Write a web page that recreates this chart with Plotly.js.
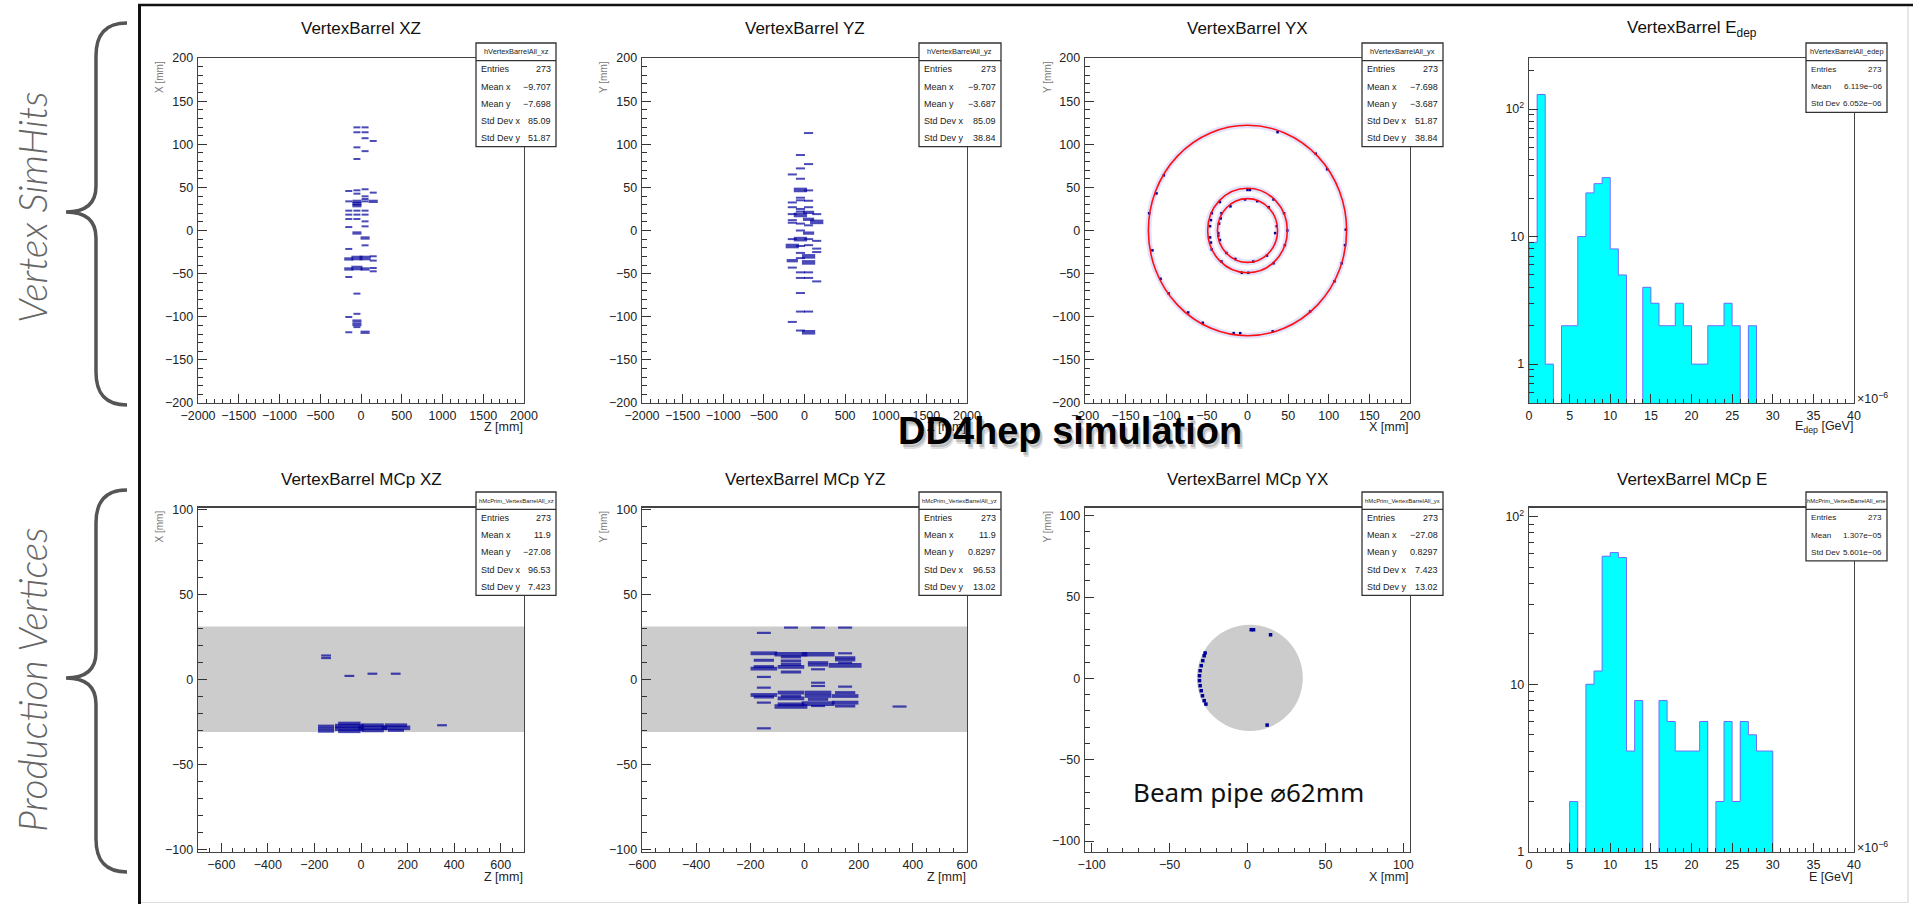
<!DOCTYPE html>
<html><head><meta charset="utf-8">
<script src="https://cdn.plot.ly/plotly-3.0.1.min.js"></script>
<style>html,body{margin:0;padding:0;background:#fff;overflow:hidden;} #chart{width:1913px;height:904px;}</style>
</head><body><div id="chart"></div>
<script>
// ---------------- DATA ----------------
// Panel 1: VertexBarrel XZ  (x axis = Z, y axis = X), n = bin content
const xzZ = [-150,-150,-150,-150,-150,-150,-150,-150,-150,-150,-150,-150,
  -50,-50,-50,-50,-50,-50,-50,-50,-50,-50,-50,-50,-50,-50,-50,-50,-50,-50,-50,-50,
  50,50,50,50,50,50,50,50,50,50,50,50,50,50,50,50,50,
  150,150,150,150,150,150,150];
const xzX = [45.8,33.8,23,18.4,13.3,4,-21.4,-33,-44.6,-53.9,-100.3,-118,
  119.6,113.9,96.4,82.9,46.6,42.7,33.8,31.1,28.8,23,18.4,13.3,-2.9,-31.9,-43.5,-73.2,-96.6,-105,-109,-112,
  119.6,113.9,107,92,47.8,39.6,36.5,33.8,23,18.4,10.6,4.8,-8.7,-17.2,-31.9,-44.6,-118,
  103.8,43.9,33.8,-29.9,-34.9,-43.5,-47.3];
const xzN = [1,1,1,1,1,1,1,2,2,1,1,1,
  1,1,1,1,1,1,2,2,2,1,1,1,2,3,3,1,1,2,2,1,
  1,1,1,1,1,1,1,1,1,1,1,1,2,1,3,2,2,
  1,1,2,1,1,1,1];

// Panel 2: VertexBarrel YZ (x = Z, y = Y)
const yzZ = [50,-50,50,-50,-150,-50,-50,50,-50,-50,50,-150,-150,-50,-50,50,-150,-50,50,150,-150,-150,-50,50,150,50,-50,50,-150,-50,50,150,-150,-50,50,150,150,-50,50,-50,50,-150,-150,-50,50,-50,50,150,-50,-50,50,-150,-50,50];
const yzY = [113,87.5,77,72,65,60,47,46.5,38,35,34.5,32.5,27,25,22,27,19,18,21,19,12,9,8,13,10,6,0,-3,-10,-10,-10,-12,-18,-18,-17,-21,-25,-26,-30,-32,-37,-35,-43,-48.5,-48.5,-55,-55,-59,-72.5,-94,-94,-106,-116,-118];
const yzN = [1,1,1,1,1,1,3,1,1,1,1,1,1,1,1,1,1,3,2,1,1,1,1,2,3,1,1,2,1,3,1,1,3,1,1,1,1,1,3,1,3,2,1,1,1,1,1,1,1,1,1,1,1,3];

// Panel 3: VertexBarrel YX (x = X, y = Y)
const yxX = [37,84,98,-103,-112,-121,-117,-107,-97,-73,-55,-17,-9,31,77,107,116,120,121,
  0,3,-34,-44,-46,-44,-32,-7,1,32,46,49,45,32,-45,-46,-45,
  -3,-21,-32,-36,-34,-26,-15,7,24,34,36,26,12,-35,-36,-33];
const yxY = [114,89,71,64,43,20,-23,-56,-73,-95,-107,-119,-119,-117,-94,-59,-38,-17,1,
  47,47,33,20,5,-22,-36,-49,-49,-38,-17,0,20,36,12,-8,-14,
  36,28,20,-3,-11,-26,-33,-36,-29,-3,5,27,34,8,-6,14];
const layerRadii = [122, 49, 37];

// Panel 4: VertexBarrel Edep histogram (x10^-6 GeV), 1-unit bins from 0 to 40
const edepBinLow = [0,1,2,3,4,5,6,7,8,9,10,11,12,13,14,15,16,17,18,19,20,21,22,23,24,25,26,27,28,29,30,31,32,33,34,35,36,37,38,39];
const edepCounts = [9,130,1,0,2,2,10,22,26,29,8,5,0,0,4,3,2,2,3,2,1,1,2,2,3,2,0,2,0,0,0,0,0,0,0,0,0,0,0,0];

// Panel 5: MCp XZ (x = Z, y = X)
const mcXZz = [-150,-150,-50,49,149,348,-150,-150,-150,-50,-50,-50,-50,50,50,50,150,150,150];
const mcXZx = [14,12.5,2,3.3,3.3,-27,-27.5,-29,-30.5,-26,-27.5,-29,-30.5,-27,-28.5,-30,-27,-28.5,-30];
const mcXZn = [1,1,1,1,1,1,2,2,2,3,4,4,3,3,4,3,3,4,2];

// Panel 6: MCp YZ (x = Z, y = Y)
const mcYZz = [-150,-150,-150,-150,-150,-150,-150,-150,-150,-150,-150,
  -50,-50,-50,-50,-50,-50,-50,-50,-50,-50,-50,-50,
  50,50,50,50,50,50,50,50,50,50,50,50,
  150,150,150,150,150,150,150,150,150,150,150, 351];
const mcYZy = [27.3,15.3,11.2,7.5,6.3,1.4,-4.9,-9.2,-10.4,-13.7,-28.8,
  30.4,14.7,13.2,10.8,8.8,7.3,4.3,-7.8,-9.8,-11.2,-14.7,-16,
  30.4,14.7,9.8,8.4,5.9,-2,-3.9,-7.8,-9.8,-11.8,-14.3,-15.7,
  30.4,15.3,12.7,11.4,9.8,8.2,-4.3,-7.8,-9.8,-13.7,-15.7, -16];
const mcYZn = [1,3,2,2,3,1,1,3,2,1,1,
  1,4,2,2,2,3,2,3,2,3,3,4,
  1,4,2,2,1,1,1,3,3,2,4,1,
  1,1,2,2,1,4,1,2,3,3,2, 1];

// Panel 7: MCp YX (x = X, y = Y)
const mcYXx = [2.4,3.9,14.8,12.6,-27.2,-27.8,-28.7,-29.7,-30.4,-30.8,-30.8,-30.4,-29.7,-28.9,-27.8,-26.7];
const mcYXy = [29.9,29.9,26.8,-28.7,15.6,13.9,10.9,7.8,4.7,1.6,-1.4,-4.5,-7.6,-10.7,-13.7,-15.8];
const beamPipeR = 31;

// Panel 8: MCp E histogram (x10^-6 GeV)
const eneBinLow = [0,1,2,3,4,5,6,7,8,9,10,11,12,13,14,15,16,17,18,19,20,21,22,23,24,25,26,27,28,29,30,31,32,33,34,35,36,37,38,39];
const eneCounts = [0,0,0,0,0,2,0,10,12,58,61,57,4,8,0,0,8,6,4,4,4,6,0,2,6,2,6,5,4,4,0,0,0,0,0,0,0,0,0,0];

// Titles and stats
const panelTitles = ['VertexBarrel XZ','VertexBarrel YZ','VertexBarrel YX','VertexBarrel E<sub>dep</sub>',
  'VertexBarrel MCp XZ','VertexBarrel MCp YZ','VertexBarrel MCp YX','VertexBarrel MCp E'];
const xTitles = ['Z [mm]','Z [mm]','X [mm]','E<sub>dep</sub> [GeV]','Z [mm]','Z [mm]','X [mm]','E [GeV]'];
const yTitles = ['X [mm]','Y [mm]','Y [mm]',null,'X [mm]','Y [mm]','Y [mm]',null];
const statsHeader = ['hVertexBarrelAll_xz','hVertexBarrelAll_yz','hVertexBarrelAll_yx','hVertexBarrelAll_edep',
  'hMcPrim_VertexBarrelAll_xz','hMcPrim_VertexBarrelAll_yz','hMcPrim_VertexBarrelAll_yx','hMcPrim_VertexBarrelAll_ene'];
const statsLabels2D = ['Entries','Mean x','Mean y','Std Dev x','Std Dev y'];
const statsLabels1D = ['Entries','Mean','Std Dev'];
const statsValues = [
  ['273','\u22129.707','\u22127.698','85.09','51.87'],
  ['273','\u22129.707','\u22123.687','85.09','38.84'],
  ['273','\u22127.698','\u22123.687','51.87','38.84'],
  ['273','6.119e\u221206','6.052e\u221206'],
  ['273','11.9','\u221227.08','96.53','7.423'],
  ['273','11.9','0.8297','96.53','13.02'],
  ['273','\u221227.08','0.8297','7.423','13.02'],
  ['273','1.307e\u221205','5.601e\u221206']
];

// ---------------- LAYOUT HELPERS ----------------
const W = 1913, H = 904;
const fx = v => v / W;
const fy = v => 1 - v / H;
const FONT = 'Liberation Sans, Arial, Helvetica, sans-serif';
const cols = [[198,524],[642,967],[1085,1410],[1529,1854]];
const rowsY = [[58,403],[507.5,852]];
const axSpec = [
  {xr:[-2000,2000], xd:500, xm:100, yr:[-200,200], yd:50, ym:10},
  {xr:[-2000,2000], xd:500, xm:100, yr:[-200,200], yd:50, ym:10},
  {xr:[-200,200], xd:50, xm:10, yr:[-200,200], yd:50, ym:10},
  {xr:[0,40], xd:5, xm:1, log:true, yr:[-0.305,2.40], minors:[0.5,0.6,0.7,0.8,0.9,2,3,4,5,6,7,8,9,20,30,40,50,60,70,80,90,200]},
  {xr:[-700,700], xd:200, xm:50, yr:[-101.5,101], yd:50, ym:10},
  {xr:[-600,600], xd:200, xm:50, yr:[-101.5,101], yd:50, ym:10},
  {xr:[-104.3,104.3], xd:50, xm:10, yr:[-106.7,105], yd:50, ym:10},
  {xr:[0,40], xd:5, xm:1, log:true, yr:[0,2.054], minors:[2,3,4,5,6,7,8,9,20,30,40,50,60,70,80,90]}
];

const layout = {
  width: W, height: H, autosize: false,
  margin: {l:0, r:0, t:0, b:0, pad:0},
  paper_bgcolor: '#fff', plot_bgcolor: 'rgba(0,0,0,0)',
  showlegend: false, hovermode: false, bargap: 0,
  font: {family: FONT, color: '#222'},
  shapes: [], annotations: []
};

function baseAxis(){
  return {
    ticks: 'inside', ticklen: 9, tickwidth: 1, tickcolor: '#333',
    showline: true, linecolor: '#444', linewidth: 1.3, mirror: true,
    showgrid: false, zeroline: false, fixedrange: true,
    tickfont: {family: FONT, size: 12.5, color: '#222'},
    ticklabelstandoff: 1
  };
}

for (let i = 0; i < 8; i++) {
  const s = axSpec[i];
  const c = cols[i % 4], r = rowsY[i < 4 ? 0 : 1];
  const n = i + 1;
  const xa = baseAxis();
  Object.assign(xa, {domain: [fx(c[0]), fx(c[1])], range: s.xr, tick0: 0, dtick: s.xd,
    anchor: 'y' + n,
    minor: {ticks: 'inside', ticklen: 4.5, tickwidth: 1, tickcolor: '#333', dtick: s.xm, tick0: 0, showgrid: false}});
  const ya = baseAxis();
  Object.assign(ya, {domain: [fy(r[1]), fy(r[0])], range: s.yr, anchor: 'x' + n});
  if (s.log) {
    Object.assign(ya, {type: 'log', tickmode: 'array', tickvals: [1,10,100], ticktext: ['1','10','10<sup>2</sup>'],
      minor: {ticks: 'inside', ticklen: 4.5, tickwidth: 1, tickcolor: '#333', tickmode: 'array', tickvals: s.minors, showgrid: false}});
  } else {
    Object.assign(ya, {tick0: 0, dtick: s.yd,
      minor: {ticks: 'inside', ticklen: 4.5, tickwidth: 1, tickcolor: '#333', dtick: s.ym, tick0: 0, showgrid: false}});
  }
  layout['xaxis' + (n === 1 ? '' : n)] = xa;
  layout['yaxis' + (n === 1 ? '' : n)] = ya;
}

// ---------------- TRACES ----------------
const NAVY = '#000099';
function boxTrace(xs, ys, ns, ax, base, grow, thick, tgrow) {
  return {
    type: 'scatter', mode: 'markers', x: xs, y: ys, xaxis: 'x' + ax, yaxis: 'y' + ax,
    marker: {symbol: 'line-ew', size: ns.map(v => base + grow * (v - 1)), color: NAVY,
      line: {color: NAVY, width: ns.map(v => thick + tgrow * (v - 1))}},
    hoverinfo: 'skip'
  };
}
function dotTrace(xs, ys, ax, sz) {
  return {type: 'scatter', mode: 'markers', x: xs, y: ys, xaxis: 'x' + ax, yaxis: 'y' + ax,
    marker: {symbol: 'square', size: sz, color: NAVY, line: {width: 0}}, hoverinfo: 'skip'};
}
function histTraces(lows, counts, ax) {
  const fill = {type: 'bar', x: lows.map(v => v + 0.5), y: counts.map(v => v > 0 ? v : null), width: 1,
    xaxis: 'x' + ax, yaxis: 'y' + ax,
    marker: {color: '#00ffff', line: {width: 0}}, hoverinfo: 'skip'};
  // outline as a step line through the bin edges (empty bins drop below the axis and get clipped)
  const ex = [lows[0]].concat(lows, [lows[lows.length - 1] + 1]);
  const ey = [1e-3].concat(counts.map(v => v > 0 ? v : 1e-3), [counts[counts.length - 1] > 0 ? counts[counts.length - 1] : 1e-3]);
  const outline = {type: 'scatter', mode: 'lines', x: ex, y: ey, xaxis: 'x' + ax, yaxis: 'y' + ax,
    line: {shape: 'hv', color: '#6e6eff', width: 1}, hoverinfo: 'skip'};
  return [fill, outline];
}

const traces = [
  boxTrace(xzZ, xzX, xzN, '', 5, 1.5, 2, 1.3),
  boxTrace(yzZ, yzY, yzN, '2', 6.5, 1.5, 2, 1.3),
  dotTrace(yxX, yxY, '3', 2.5),
  ...histTraces(edepBinLow, edepCounts, '4'),
  boxTrace(mcXZz, mcXZx, mcXZn, '5', 7, 4.5, 2.2, 0.8),
  boxTrace(mcYZz, mcYZy, mcYZn, '6', 10, 4.5, 2.2, 0.8),
  dotTrace(mcYXx, mcYXy, '7', 3.5),
  ...histTraces(eneBinLow, eneCounts, '8')
];

// ---------------- SHAPES ----------------
const S = layout.shapes;
layerRadii.forEach(rad => {
  S.push({type:'circle', xref:'x3', yref:'y3', x0:-rad, x1:rad, y0:-rad, y1:rad,
    line:{color:'rgba(190,190,255,0.45)', width:6}, layer:'below'});
});
layerRadii.forEach(rad => {
  S.push({type:'circle', xref:'x3', yref:'y3', x0:-rad, x1:rad, y0:-rad, y1:rad,
    line:{color:'#ff1010', width:1.6}, layer:'above'});
});
['5','6'].forEach(a => {
  S.push({type:'rect', xref:'x' + a + ' domain', yref:'y' + a, x0:0, x1:1, y0:-beamPipeR, y1:beamPipeR,
    fillcolor:'#cccccc', line:{width:0}, layer:'below'});
});
S.push({type:'circle', xref:'x7', yref:'y7', x0:-32.5, x1:35.5, y0:-32.3, y1:33,
  fillcolor:'#cccccc', line:{width:0}, layer:'below'});

// stats boxes
const boxX = [[476,556],[919,1001],[1362,1443],[1806,1887]];
const A = layout.annotations;
for (let i = 0; i < 8; i++) {
  const bx = boxX[i % 4];
  const top = i < 4 ? 43 : 492;
  const hh = i < 4 ? 17.7 : 17.3;
  const is1D = (i % 4 === 3);
  const labels = is1D ? statsLabels1D : statsLabels2D;
  const fs = is1D ? 8.1 : 9;
  const rowH = 17.2;
  const bottom = top + hh + rowH * labels.length;
  S.push({type:'rect', xref:'paper', yref:'paper', x0:fx(bx[0]), x1:fx(bx[1]), y0:fy(bottom), y1:fy(top),
    fillcolor:'#fff', line:{color:'#333', width:1.3}, layer:'above'});
  S.push({type:'line', xref:'paper', yref:'paper', x0:fx(bx[0]), x1:fx(bx[1]), y0:fy(top + hh), y1:fy(top + hh),
    line:{color:'#333', width:1.3}, layer:'above'});
  A.push({xref:'paper', yref:'paper', x:fx((bx[0] + bx[1]) / 2), y:fy(top + hh / 2), text:statsHeader[i],
    showarrow:false, xanchor:'center', yanchor:'middle', font:{size: i < 4 ? 7.4 : 5.9, color:'#222', family:FONT}});
  labels.forEach((lab, k) => {
    const yc = top + hh + rowH * (k + 0.5);
    A.push({xref:'paper', yref:'paper', x:fx(bx[0] + 3), y:fy(yc), text:lab, showarrow:false,
      xanchor:'left', yanchor:'middle', font:{size:fs, color:'#222', family:FONT}});
    A.push({xref:'paper', yref:'paper', x:fx(bx[1] - 3), y:fy(yc), text:statsValues[i][k], showarrow:false,
      xanchor:'right', yanchor:'middle', font:{size:fs, color:'#222', family:FONT}});
  });
}

// braces and frame
function P(x, y) { return fx(x).toFixed(5) + ',' + fy(y).toFixed(5); }
function brace(yt, yb, ytip) {
  return 'M' + P(127, yt) + ' C' + P(104, yt) + ' ' + P(96, yt + 13) + ' ' + P(96, yt + 33) +
    ' L' + P(96, ytip - 26) + ' C' + P(96, ytip - 9) + ' ' + P(86, ytip) + ' ' + P(66, ytip) +
    ' C' + P(86, ytip) + ' ' + P(96, ytip + 9) + ' ' + P(96, ytip + 26) +
    ' L' + P(96, yb - 33) + ' C' + P(96, yb - 13) + ' ' + P(104, yb) + ' ' + P(127, yb);
}
S.push({type:'path', xref:'paper', yref:'paper', path:brace(23, 405, 212), line:{color:'#555', width:3.5}, layer:'above'});
S.push({type:'path', xref:'paper', yref:'paper', path:brace(490, 872, 678), line:{color:'#555', width:3.5}, layer:'above'});
S.push({type:'line', xref:'paper', yref:'paper', x0:fx(138), x1:1, y0:fy(5), y1:fy(5), line:{color:'#111', width:2.5}, layer:'above'});
S.push({type:'line', xref:'paper', yref:'paper', x0:fx(139.5), x1:fx(139.5), y0:fy(4), y1:0, line:{color:'#111', width:3}, layer:'above'});
S.push({type:'line', xref:'paper', yref:'paper', x0:fx(1908), x1:fx(1908), y0:fy(7), y1:fy(903), line:{color:'#cfcfcf', width:1}, layer:'above'});
S.push({type:'line', xref:'paper', yref:'paper', x0:fx(141), x1:fx(1908), y0:fy(902.5), y1:fy(902.5), line:{color:'#dcdcdc', width:1}, layer:'above'});

// ---------------- TEXT ----------------
for (let i = 0; i < 8; i++) {
  const c = cols[i % 4], r = rowsY[i < 4 ? 0 : 1];
  const top = i < 4 ? 0 : 1;
  A.push({xref:'paper', yref:'paper', x:fx((c[0] + c[1]) / 2), y:fy(top ? 479 : 29), text:panelTitles[i],
    showarrow:false, xanchor:'center', yanchor:'middle', font:{size:17, color:'#111', family:FONT}});
  A.push({xref:'paper', yref:'paper', x:fx(c[1] + 1), y:fy(top ? 877 : 427), text:xTitles[i],
    showarrow:false, xanchor:'right', yanchor:'middle', font:{size:12.5, color:'#222', family:FONT}});
  if (yTitles[i]) {
    const xs = [159, 603, 1047][i % 4];
    A.push({xref:'paper', yref:'paper', x:fx(xs), y:fy(r[0] + 19), text:yTitles[i], textangle:-90,
      showarrow:false, xanchor:'center', yanchor:'middle', font:{size:10, color:'#777', family:FONT}});
  }
  if (i % 4 === 3) {
    A.push({xref:'paper', yref:'paper', x:fx(1855), y:fy(r[1] - 5), text:'\u00d710<sup>\u22126</sup>',
      showarrow:false, xanchor:'left', yanchor:'middle', font:{size:12.5, color:'#222', family:FONT}});
  }
}

A.push({xref:'paper', yref:'paper', x:fx(32), y:fy(207), text:'Vertex SimHits', textangle:-90, showarrow:false,
  xanchor:'center', yanchor:'middle', font:{size:39, color:'#666', family:'Lato, Open Sans, sans-serif', style:'italic', weight:300}});
A.push({xref:'paper', yref:'paper', x:fx(32), y:fy(680), text:'Production Vertices', textangle:-90, showarrow:false,
  xanchor:'center', yanchor:'middle', font:{size:39, color:'#666', family:'Lato, Open Sans, sans-serif', style:'italic', weight:300}});

A.push({xref:'paper', yref:'paper', x:fx(1248), y:fy(792), text:'Beam pipe \u230062mm', showarrow:false,
  xanchor:'center', yanchor:'middle', font:{size:26, color:'#111', family:'Noto Sans, DejaVu Sans, sans-serif'}});

[[2,3,0.16],[3,5,0.12]].forEach(o => {
  A.push({xref:'paper', yref:'paper', x:fx(1070), y:fy(431), xshift:o[0], yshift:-o[1], text:'<b>DD4hep simulation</b>',
    showarrow:false, xanchor:'center', yanchor:'middle', font:{size:38, color:'rgba(0,0,0,' + o[2] + ')', family:FONT}});
});
A.push({xref:'paper', yref:'paper', x:fx(1070), y:fy(431), text:'<b>DD4hep simulation</b>', showarrow:false,
  xanchor:'center', yanchor:'middle', font:{size:38, color:'#000', family:FONT}});

Plotly.newPlot('chart', traces, layout, {staticPlot: true, displayModeBar: false});
</script>
</body></html>
